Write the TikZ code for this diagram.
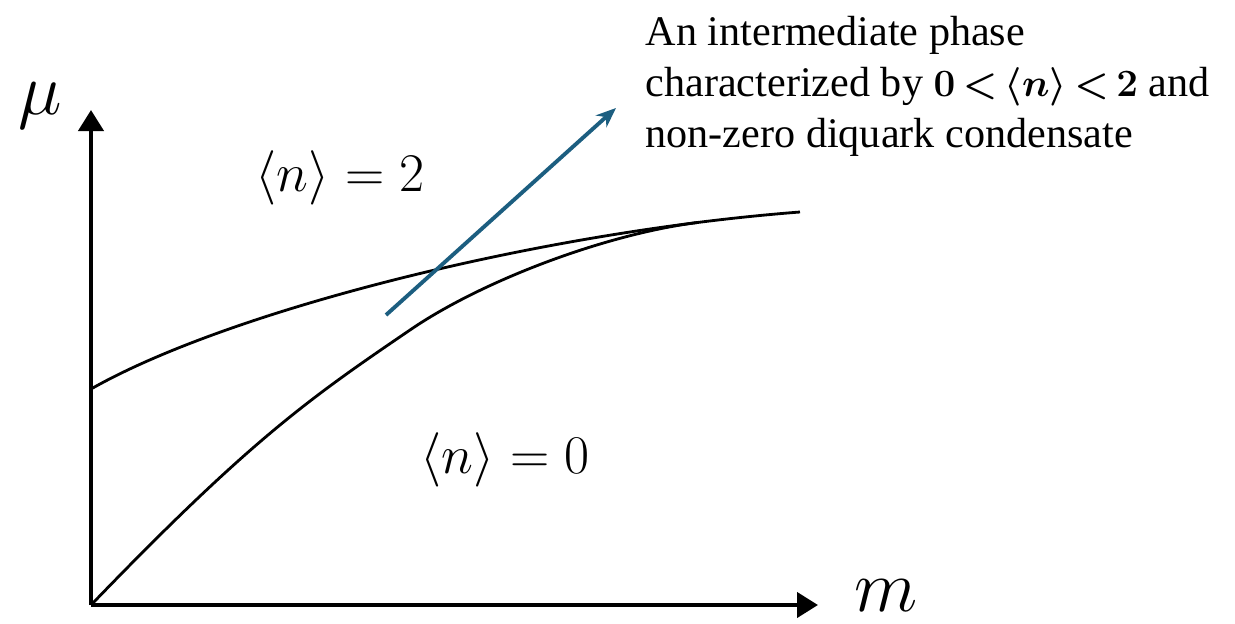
\RequirePackage{fix-cm}
\documentclass[tikz,border=0pt]{standalone}
\usepackage{fontspec}
\newfontfamily\notefont{Liberation Serif}
\usetikzlibrary{arrows.meta}
\tikzset{math/.style = {execute at begin node=$, execute at end node=$}}
\definecolor{notecol}{RGB}{28,94,128}

\begin{document}
\begin{tikzpicture}[x=0.02cm, y=-0.02cm, thick,
    axis/.style = {line width=2.4pt, -{Triangle[length=0.42cm, width=0.5cm]}},
    phase/.style = {line width=1.6pt},
    big/.style = {math, font=\fontsize{31}{36}\selectfont, inner sep=0pt}]
      \useasboundingbox (0,0) rectangle (1235,623);
      \coordinate (o) at (91,605);
      \coordinate (ytip) at (91,110);
      \coordinate (xtip) at (818,605);
      \draw[axis] (o) -- (ytip);
      \draw[axis] (o) -- (xtip);
      \node (mu) at (40,106) [math, font=\fontsize{42}{48}\selectfont] {\mu};
      \node (m) at (886,596) [math, font=\fontsize{42}{48}\selectfont] {m};
      % phase boundaries
      \draw[phase] (91,389) .. controls (230,310) and (540,232) .. (800,212)
        coordinate[pos=0.87] (meet);
      \draw[phase] (o) .. controls (250,440) and (310,398) .. (410,330)
        .. controls (480,282) and (602,235) .. (meet);
      \node (two) at (340,178) [big] {\langle n\rangle = 2};
      \node (zero) at (505,460) [big] {\langle n\rangle = 0};
      \node (note) at (645,86) [anchor=west, align=left, inner sep=0pt,
        font=\notefont\fontsize{24}{29}\selectfont] {An intermediate phase\\
        characterized by {\fontsize{22}{29}\selectfont\thickmuskip=3mu\boldmath$0<\langle n\rangle<2$} and\\
        non-zero diquark condensate};
      \coordinate (start) at (386,315);
      \coordinate (tip) at (616,108);
      \draw[notecol, line width=2.2pt, -{Stealth[length=0.4cm, width=0.32cm]}] (start) -- (tip);
    \end{tikzpicture}
\end{document}
